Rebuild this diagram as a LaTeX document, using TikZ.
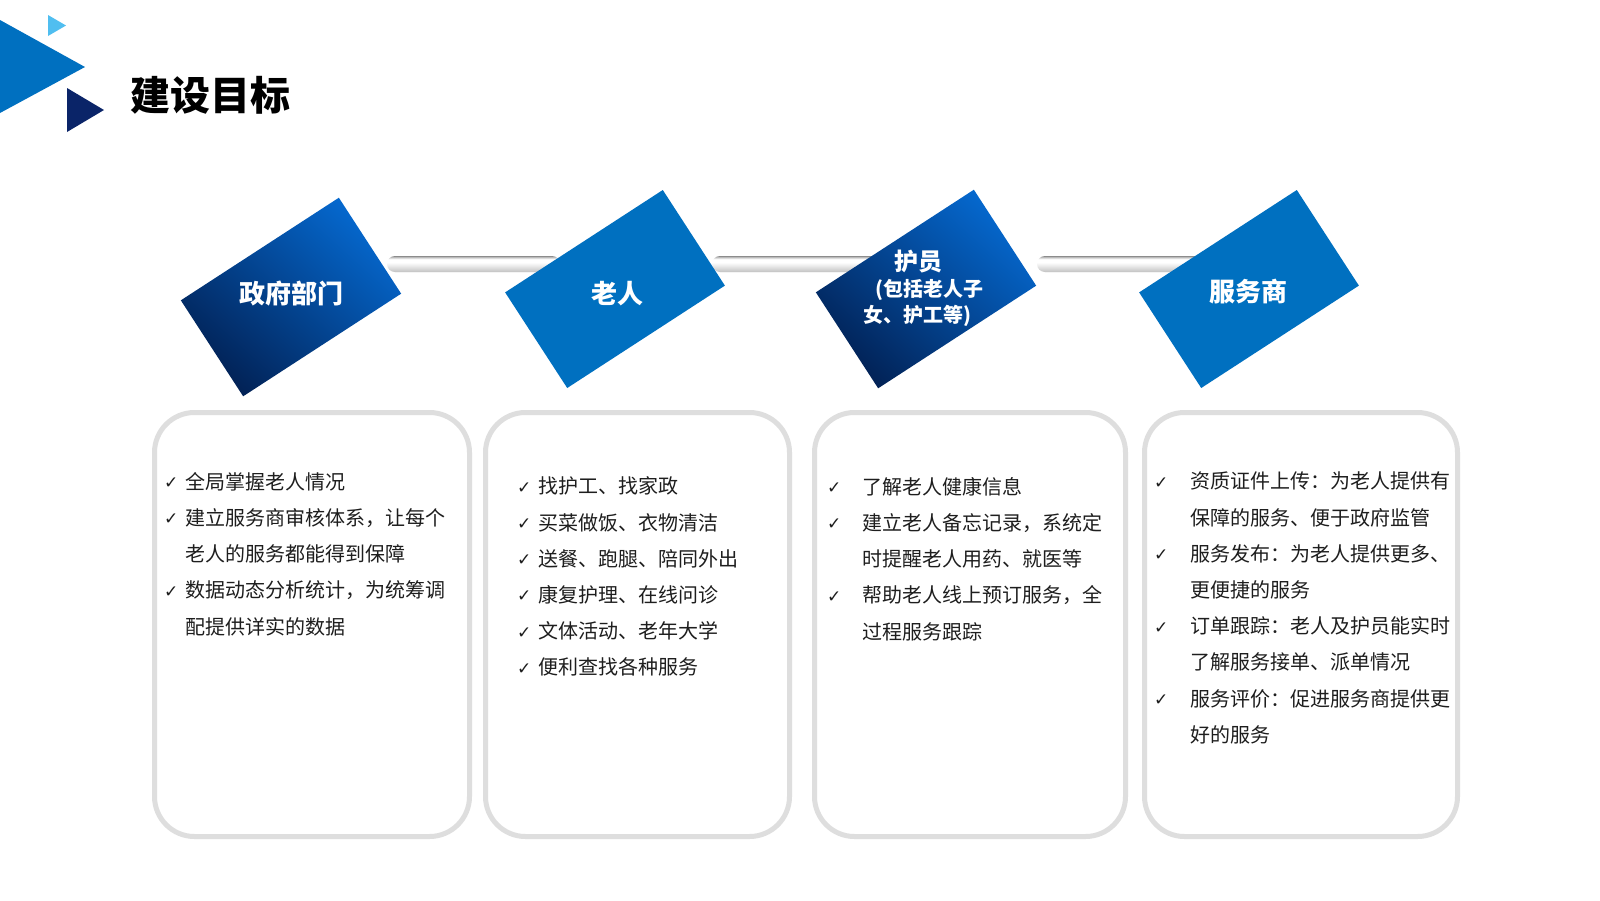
\documentclass[tikz,border=0pt]{standalone}
\usepackage{fontspec}
\setmainfont{Noto Sans CJK SC}
\newfontfamily\ckfont{DejaVu Sans}
\usetikzlibrary{calc}
\definecolor{mblue}{RGB}{0,112,192}
\definecolor{gdark}{RGB}{2,34,86}
\definecolor{glight}{RGB}{5,104,206}
\definecolor{lblue}{RGB}{80,190,240}
\definecolor{navy}{RGB}{10,36,104}
\definecolor{cardline}{RGB}{222,222,222}
\definecolor{txt}{RGB}{30,30,30}
\definecolor{rodt}{RGB}{140,140,140}
\definecolor{rodu}{RGB}{200,200,200}
\definecolor{rodm}{RGB}{225,225,225}
\definecolor{rodb}{RGB}{175,175,175}
\pgfdeclareverticalshading{rod}{100bp}{color(0bp)=(rodb); color(25bp)=(rodb); color(28bp)=(rodu); color(40bp)=(rodm); color(55bp)=(white); color(65bp)=(white); color(71bp)=(rodu); color(75bp)=(rodt); color(100bp)=(rodt)}
\pgfdeclarelayer{bg}
\pgfsetlayers{bg,main}
\newcommand\chk[1]{\makebox[#1pt][l]{\strut\raisebox{0.5pt}{\ckfont\fontsize{17}{17}\selectfont ✓}}}
\newcommand\indt[1]{\hspace*{#1pt}}
\tikzset{
  card/.style={draw=cardline, line width=5pt, rounded corners=40pt, fill=white, minimum height=424pt, inner sep=0pt},
  tag/.style={rotate=33, minimum width=188pt, minimum height=114pt, inner sep=0pt},
  solidtag/.style={tag, fill=mblue},
  gradfill/.style={top color=glight, bottom color=gdark, shading angle=-42},
  lbl/.style={text=white, font=\fontsize{26}{30}\selectfont\bfseries, inner sep=0pt},
  sublbl/.style={text=white, font=\fontsize{20}{22}\selectfont\bfseries, inner sep=0pt},
  items/.style={anchor=north west, inner sep=0pt, align=left, text=txt, font=\fontsize{20}{36.2}\selectfont},
  rodbar/.style={shading=rod, rounded corners=8pt}
}
\begin{document}
\begin{tikzpicture}[x=1pt,y=-1pt]
\useasboundingbox (0,0) rectangle (1600,900);
% corner triangles
\fill[mblue] (0,20) -- (85,67) -- (0,113) -- cycle;
\fill[lblue] (48,15) -- (66,25.5) -- (48,36) -- cycle;
\fill[navy] (67,88) -- (104,110) -- (67,132) -- cycle;
% title
\node[anchor=west, inner sep=0pt, font=\fontsize{40}{48}\selectfont\bfseries, text=black] (title) at (130,95) {建设目标};
% cards
\node[card, minimum width=315pt] (b1) at (312,624.5) {};
\node[card, minimum width=304pt] (b2) at (637.5,624.5) {};
\node[card, minimum width=311pt] (b3) at (970,624.5) {};
\node[card, minimum width=313pt] (b4) at (1301,624.5) {};
% tags
\node[tag] (r1) at (291,297) {};
\node[solidtag] (r2) at (615,289) {};
\node[tag] (r3) at (926,289) {};
\node[solidtag] (r4) at (1249,289) {};
\shade[gradfill] (r1.south west) -- (r1.south east) -- (r1.north east) -- (r1.north west) -- cycle;
\shade[gradfill] (r3.south west) -- (r3.south east) -- (r3.north east) -- (r3.north west) -- cycle;
% background and rods
\begin{pgfonlayer}{bg}
\fill[white] (0,0) rectangle (1600,900);
\shade[rodbar] ($(r1.center)+(96,-41)$) rectangle ($(r2.center)+(-55,-17)$);
\shade[rodbar] ($(r2.center)+(97,-33)$) rectangle ($(r3.center)+(-46,-17)$);
\shade[rodbar] ($(r3.center)+(111,-33)$) rectangle ($(r4.center)+(-39,-17)$);
\end{pgfonlayer}
% tag labels
\node[lbl] (l1) at (291,294) {政府部门};
\node[lbl] (l2) at (617,294) {老人};
\node[lbl, font=\fontsize{24}{28}\selectfont\bfseries] (l3a) at (918,262) {护员};
\node[sublbl] (l3b) at (929,290) {(包括老人子};
\node[sublbl] (l3c) at (917,316) {女、护工等)};
\node[lbl] (l4) at (1248,292) {服务商};
% card texts
\node[items] (t1) at (164,463.7) {\chk{21}全局掌握老人情况\\
\chk{21}建立服务商审核体系，让每个\\
\indt{21}老人的服务都能得到保障\\
\chk{21}数据动态分析统计，为统筹调\\
\indt{21}配提供详实的数据};
\node[items] (t2) at (517,468.3) {\chk{21}找护工、找家政\\
\chk{21}买菜做饭、衣物清洁\\
\chk{21}送餐、跑腿、陪同外出\\
\chk{21}康复护理、在线问诊\\
\chk{21}文体活动、老年大学\\
\chk{21}便利查找各种服务};
\node[items] (t3) at (827,468.7) {\chk{35}了解老人健康信息\\
\chk{35}建立老人备忘记录，系统定\\
\indt{35}时提醒老人用药、就医等\\
\chk{35}帮助老人线上预订服务，全\\
\indt{35}过程服务跟踪};
\node[items] (t4) at (1154,463.3) {\chk{36}资质证件上传：为老人提供有\\
\indt{36}保障的服务、便于政府监管\\
\chk{36}服务发布：为老人提供更多、\\
\indt{36}更便捷的服务\\
\chk{36}订单跟踪：老人及护员能实时\\
\indt{36}了解服务接单、派单情况\\
\chk{36}服务评价：促进服务商提供更\\
\indt{36}好的服务};
\end{tikzpicture}
\end{document}
